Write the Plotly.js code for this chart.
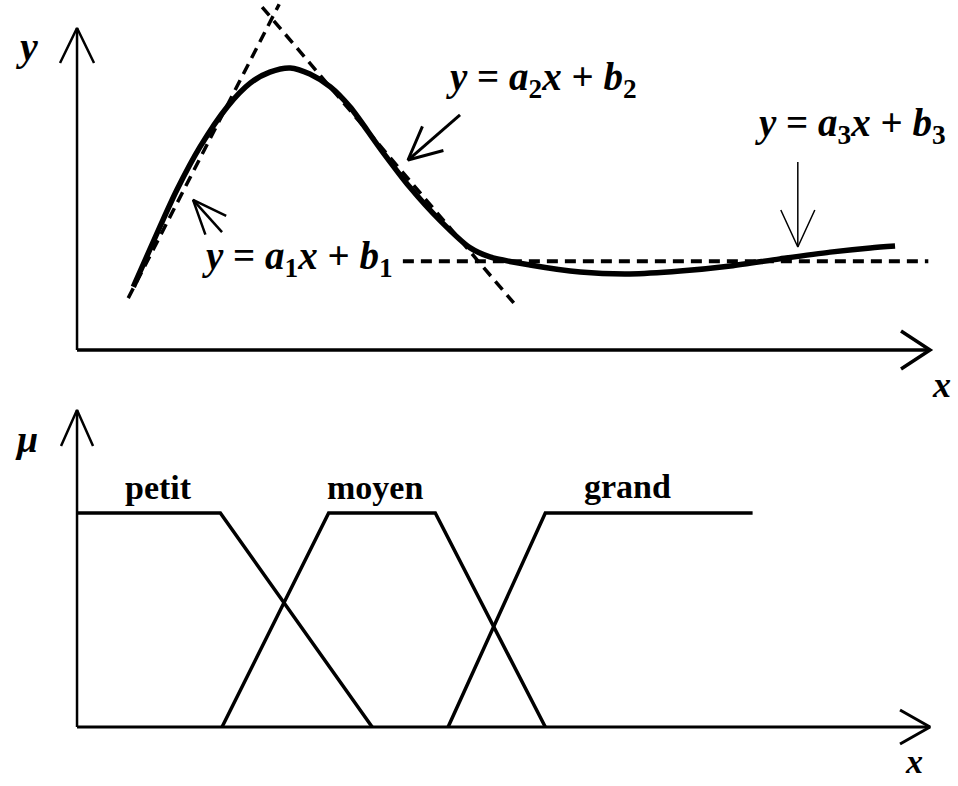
<!DOCTYPE html>
<html>
<head>
<meta charset="utf-8">
<script src="https://cdn.plot.ly/plotly-3.0.1.min.js"></script>
<style>html,body{margin:0;padding:0;background:#fff}</style>
</head>
<body>
<div id="chart" style="width:958px;height:786px"></div>
<script>
// ---- Upper panel: nonlinear response y(x) ----
const curveX = [6.6, 9.7, 11.7, 14.4, 17.6, 20.3, 22.6, 25.0, 27.3, 29.7, 32.0, 35.5, 39.0, 42.6, 46.1, 48.4, 53.1, 59.0, 64.8, 70.7, 76.6, 82.4, 88.3, 93.0, 95.9];
const curveY = [19.6, 38.2, 49.7, 63.0, 75.5, 82.9, 86.3, 87.6, 85.7, 81.7, 75.5, 62.7, 50.6, 40.1, 31.7, 28.9, 26.4, 24.2, 23.6, 24.5, 26.1, 28.3, 30.4, 31.7, 32.3];

// local linear models y = a_i x + b_i (segment end points)
const line1X = [6.0, 23.7],  line1Y = [16.1, 107.4];
const line2X = [21.7, 51.2], line2Y = [106.5, 14.6];
const line3X = [38.2, 99.8], line3Y = [27.6, 27.6];
const eqTexts = [
  '<b><i>y</i> = <i>a</i><sub>1</sub><i>x</i> + <i>b</i><sub>1</sub></b>',
  '<b><i>y</i> = <i>a</i><sub>2</sub><i>x</i> + <i>b</i><sub>2</sub></b>',
  '<b><i>y</i> = <i>a</i><sub>3</sub><i>x</i> + <i>b</i><sub>3</sub></b>'
];

// ---- Lower panel: membership functions μ(x) ----
const petitX = [0, 16.8, 34.6],         petitMu = [1, 1, 0];
const moyenX = [17.0, 29.5, 42.0, 54.9], moyenMu = [0, 1, 1, 0];
const grandX = [43.5, 54.9, 79.2],       grandMu = [0, 1, 1];
const setNames = ['petit', 'moyen', 'grand'];

// ---- frame geometry ----
const W = 958, H = 786;
const xRange = [-9.03, 103.28];
const split = 0.4911;
const yRangeTop = [-15.53, 108.70];
const yRangeBot = [-0.2757, 1.528];
const sx = W / (xRange[1] - xRange[0]);
const syTop = H * (1 - split) / (yRangeTop[1] - yRangeTop[0]);
const syBot = H * split / (yRangeBot[1] - yRangeBot[0]);

// open "V" arrow: shaft from tail to tip plus two arms (sizes in px)
function arrow(tail, tip, headLen, headHalf, sy, width, yaxis) {
  const dxp = (tip[0] - tail[0]) * sx, dyp = (tip[1] - tail[1]) * sy;
  const L = Math.hypot(dxp, dyp);
  const ux = dxp / L, uy = dyp / L;
  const bx = -ux * headLen, by = -uy * headLen;
  const px = -uy * headHalf, py = ux * headHalf;
  const a1 = [tip[0] + (bx + px) / sx, tip[1] + (by + py) / sy];
  const a2 = [tip[0] + (bx - px) / sx, tip[1] + (by - py) / sy];
  return {
    type: 'scatter', mode: 'lines', yaxis: yaxis, hoverinfo: 'skip',
    x: [tail[0], tip[0], null, a1[0], tip[0], a2[0]],
    y: [tail[1], tip[1], null, a1[1], tip[1], a2[1]],
    line: {color: '#000', width: width}
  };
}

const dashStyle = '11px,7px';
const traces = [
  // axes
  arrow([0, 0], [0, 100], 35, 17, syTop, 2.5, 'y'),
  arrow([0, 0], [100, 0], 29, 19, syTop, 3.5, 'y'),
  arrow([0, 0], [0, 1.481], 36, 16, syBot, 2.5, 'y2'),
  arrow([0, 0], [100, 0], 30, 17, syBot, 3, 'y2'),
  // local linear models
  {type: 'scatter', mode: 'lines', x: line1X, y: line1Y, hoverinfo: 'skip',
   line: {color: '#000', width: 3.5, dash: dashStyle}},
  {type: 'scatter', mode: 'lines', x: line2X, y: line2Y, hoverinfo: 'skip',
   line: {color: '#000', width: 3.5, dash: dashStyle}},
  {type: 'scatter', mode: 'lines', x: line3X, y: line3Y, hoverinfo: 'skip',
   line: {color: '#000', width: 4, dash: dashStyle}},
  // response curve
  {type: 'scatter', mode: 'lines', x: curveX, y: curveY, hoverinfo: 'skip',
   line: {color: '#000', width: 5.5, shape: 'spline', smoothing: 0.8}},
  // pointers to each model
  arrow([17.0, 36.6], [13.6, 46.6], 34, 14, syTop, 2.5, 'y'),
  arrow([44.9, 73.0], [38.8, 59.0], 33, 16, syTop, 3, 'y'),
  arrow([84.5, 58.4], [84.5, 32.0], 37, 17, syTop, 1.5, 'y'),
  // membership functions
  {type: 'scatter', mode: 'lines', x: petitX, y: petitMu, yaxis: 'y2', hoverinfo: 'skip',
   line: {color: '#000', width: 3.5}},
  {type: 'scatter', mode: 'lines', x: moyenX, y: moyenMu, yaxis: 'y2', hoverinfo: 'skip',
   line: {color: '#000', width: 3.5}},
  {type: 'scatter', mode: 'lines', x: grandX, y: grandMu, yaxis: 'y2', hoverinfo: 'skip',
   line: {color: '#000', width: 3.5}}
];

const serif = 'Liberation Serif, Times New Roman, serif';
function label(text, x, y, yref, size, yanchor) {
  return {text: text, x: x, y: y, xref: 'x', yref: yref, showarrow: false,
          xanchor: 'center', yanchor: yanchor || 'middle',
          font: {family: serif, size: size, color: '#000'}};
}

const annotations = [
  label('<b><i>y</i></b>', -5.9, 94.4, 'y', 40),
  label('<b><i>x</i></b>', 101.3, -10.9, 'y', 36),
  label(eqTexts[0], 25.8, 28.3, 'y', 39),
  label(eqTexts[1], 54.5, 84.0, 'y', 39),
  label(eqTexts[2], 90.7, 69.6, 'y', 39),
  label('<b><i>μ</i></b>', -5.9, 1.345, 'y2', 38),
  label('<b><i>x</i></b>', 98.1, -0.258, 'y2', 34, 'bottom'),
  label('<b>' + setNames[0] + '</b>', 9.5, 1.12, 'y2', 34),
  label('<b>' + setNames[1] + '</b>', 34.9, 1.12, 'y2', 34),
  label('<b>' + setNames[2] + '</b>', 64.5, 1.125, 'y2', 34)
];

const layout = {
  width: W, height: H,
  margin: {l: 0, r: 0, t: 0, b: 0},
  paper_bgcolor: '#fff', plot_bgcolor: '#fff',
  showlegend: false,
  xaxis: {range: xRange, visible: false, fixedrange: true},
  yaxis: {range: yRangeTop, domain: [split, 1], visible: false, fixedrange: true},
  yaxis2: {range: yRangeBot, domain: [0, split], visible: false, fixedrange: true},
  annotations: annotations
};

Plotly.newPlot('chart', traces, layout, {staticPlot: true, displayModeBar: false});
</script>
</body>
</html>
